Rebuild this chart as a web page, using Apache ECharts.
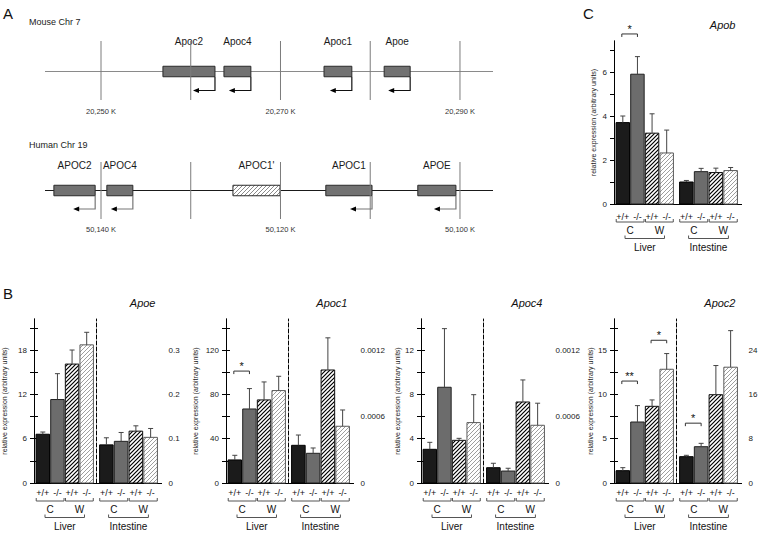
<!DOCTYPE html>
<html>
<head>
<meta charset="utf-8">
<title>Apolipoprotein gene cluster and expression</title>
<script src="https://cdn.jsdelivr.net/npm/echarts@6.0.0/dist/echarts.min.js"></script>
<style>
html,body{margin:0;padding:0;background:#fff;}
#chart{width:761px;height:534px;}
</style>
</head>
<body>
<div id="chart"></div>
<script>
// ---------------- Panel A : gene maps (kb) ----------------
const mouseGenes = ['Apoc2', 'Apoc4', 'Apoc1', 'Apoe'];
const mouseGeneLeft = [20256.9, 20263.7, 20274.85, 20281.55];
const mouseGeneRight = [20262.7, 20266.7, 20277.95, 20284.45];
const mouseTicks = [20250, 20260, 20270, 20280, 20290];
const mouseTickLabels = ['20,250 K', '', '20,270 K', '', '20,290 K'];
const mouseRange = [20243.76, 20293.68];

const humanGenes = ['APOC2', 'APOC4', "APOC1'", 'APOC1', 'APOE'];
const humanGeneLeft = [50145.25, 50139.35, 50125.3, 50114.95, 50104.7];
const humanGeneRight = [50140.65, 50136.45, 50120.05, 50109.8, 50100.45];
const humanPseudogene = [false, false, true, false, false];
const humanTicks = [50140, 50130, 50120, 50110, 50100];
const humanTickLabels = ['50,140 K', '', '50,120 K', '', '50,100 K'];
const humanRange = [50096.32, 50146.24];

// ---------------- Panels B, C : expression ----------------
const genotypes = ['+/+', '-/-', '+/+', '-/-'];
const diets = ['C', 'W'];
const tissues = ['Liver', 'Intestine'];
const yTitle = 'relative expression (arbitrary units)';

// Apoe
const apoeLiver = [6.6, 11.3, 16.1, 18.7];
const apoeLiverErr = [6.9, 14.8, 18.0, 20.4];
const apoeIntestine = [0.086, 0.094, 0.117, 0.103];
const apoeIntestineErr = [0.102, 0.114, 0.129, 0.123];
const apoeLeftTicks = [0, 3, 6, 9, 12, 15, 18, 21];
const apoeLeftLabels = [0, 6, 12, 18];
const apoeRightTicks = [0, 0.05, 0.1, 0.15, 0.2, 0.25, 0.3, 0.35];
const apoeRightLabels = [0, 0.1, 0.2, 0.3];

// Apoc1
const apoc1Liver = [20.8, 66.8, 75, 83.4];
const apoc1LiverErr = [25, 85.2, 91.2, 96.3];
const apoc1Intestine = [0.00034, 0.000268, 0.00102, 0.000512];
const apoc1IntestineErr = [0.000433, 0.000316, 0.00131, 0.000659];
const apoc1LiverSig = [[0, 1, 101, '*']];
const apoc1LeftTicks = [0, 20, 40, 60, 80, 100, 120, 140];
const apoc1LeftLabels = [0, 40, 80, 120];
const apoc1RightTicks = [0, 0.0002, 0.0004, 0.0006, 0.0008, 0.001, 0.0012, 0.0014];
const apoc1RightLabels = [0, 0.0006, 0.0012];

// Apoc4
const apoc4Liver = [3.04, 8.64, 3.85, 5.45];
const apoc4LiverErr = [3.67, 13.93, 4.03, 7.97];
const apoc4Intestine = [0.000138, 0.000108, 0.000731, 0.000521];
const apoc4IntestineErr = [0.000178, 0.000133, 0.00093, 0.00072];
const apoc4LeftTicks = [0, 2, 4, 6, 8, 10, 12, 14];
const apoc4LeftLabels = [0, 4, 8, 12];
const apoc4RightTicks = [0, 0.0002, 0.0004, 0.0006, 0.0008, 0.001, 0.0012, 0.0014];
const apoc4RightLabels = [0, 0.0006, 0.0012];

// Apoc2
const apoc2Liver = [1.39, 6.88, 8.65, 12.83];
const apoc2LiverErr = [1.73, 8.73, 9.37, 14.6];
const apoc2Intestine = [4.75, 6.55, 15.94, 20.9];
const apoc2IntestineErr = [5.0, 7.16, 21.2, 27.5];
const apoc2LiverSig = [[0, 1, 11.5, '**'], [2, 3, 16.1, '*']];
const apoc2IntestineSig = [[0, 1, 10.8, '*']];
const apoc2LeftTicks = [0, 2.5, 5, 7.5, 10, 12.5, 15, 17.5];
const apoc2LeftLabels = [0, 5, 10, 15];
const apoc2RightTicks = [0, 4, 8, 12, 16, 20, 24, 28];
const apoc2RightLabels = [0, 8, 16, 24];

// Apob
const apobLiver = [3.7, 5.9, 3.22, 2.32];
const apobLiverErr = [4.0, 6.7, 4.1, 3.36];
const apobIntestine = [1.0, 1.47, 1.43, 1.52];
const apobIntestineErr = [1.07, 1.62, 1.63, 1.66];
const apobLiverSig = [[0, 1, 7.73, '*']];
const apobTicks = [0, 1, 2, 3, 4, 5, 6, 7];
const apobLabels = [0, 2, 4, 6];

// ---------------- styling helpers ----------------
const FONT = "'Liberation Sans', Arial, Helvetica, sans-serif";
function hatch(lineColor, lw) {
  const s = 4;
  const c = document.createElement('canvas');
  c.width = s; c.height = s;
  const g = c.getContext('2d');
  g.fillStyle = '#ffffff'; g.fillRect(0, 0, s, s);
  g.strokeStyle = lineColor; g.lineWidth = lw;
  g.beginPath();
  g.moveTo(-1, s + 1); g.lineTo(s + 1, -1);
  g.moveTo(-1, 1); g.lineTo(1, -1);
  g.moveTo(s - 1, s + 1); g.lineTo(s + 1, s - 1);
  g.stroke();
  return { image: c.toDataURL(), repeat: 'repeat', imageWidth: s, imageHeight: s };
}
const BAR_FILL = ['#1b1b1b', '#6c6c6c', hatch('#000000', 1.2), hatch('#9e9e9e', 1.0)];
const BAR_STROKE = ['#000', '#202020', '#111', '#5a5a5a'];
const PSEUDO_FILL = hatch('#8a8a8a', 1.0);

const option = {
  animation: false,
  backgroundColor: '#ffffff',
  textStyle: { fontFamily: FONT },
  grid: [], xAxis: [], yAxis: [], series: [],
  graphic: { elements: [] }
};
function addGrid(g) { option.grid.push(Object.assign({ containLabel: false, outerBoundsMode: 'none' }, g)); return option.grid.length - 1; }
function addX(a) { option.xAxis.push(a); return option.xAxis.length - 1; }
function addY(a) { option.yAxis.push(a); return option.yAxis.length - 1; }
function addText(x, y, text, st) {
  option.graphic.elements.push({ type: 'text', x: x, y: y, silent: true,
    style: Object.assign({ text: text, fontFamily: FONT, fill: '#111', align: 'left', verticalAlign: 'middle' }, st) });
}

// ---------------- gene tracks ----------------
function geneTrack(t) {
  const gi = addGrid({ left: 45, top: t.top, width: 448, height: t.height });
  const xi = addX({ type: 'value', gridIndex: gi, min: t.range[0], max: t.range[1], inverse: !!t.inverse, show: false });
  const yi = addY({ type: 'value', gridIndex: gi, min: 0, max: 1, show: false });
  option.series.push({
    type: 'custom', xAxisIndex: xi, yAxisIndex: yi, z: 1, silent: true,
    data: [[t.range[0], t.range[1]]], encode: { x: [0, 1] },
    renderItem: function (params, api) {
      const a = api.coord([api.value(0), 0]), b = api.coord([api.value(1), 0]);
      const y = params.coordSys.y + t.lineOff;
      return { type: 'line', shape: { x1: a[0], y1: y, x2: b[0], y2: y }, style: { stroke: t.lineColor, lineWidth: 1 } };
    }
  });
  option.series.push({
    type: 'custom', xAxisIndex: xi, yAxisIndex: yi, z: 2, silent: true,
    data: t.genes.map(function (g, k) { return [t.left[k], t.right[k]]; }), encode: { x: [0, 1] },
    renderItem: function (params, api) {
      const k = params.dataIndex;
      const a = api.coord([api.value(0), 0]), b = api.coord([api.value(1), 0]);
      const x1 = Math.min(a[0], b[0]), x2 = Math.max(a[0], b[0]);
      const y = params.coordSys.y + t.lineOff;
      const pseudo = t.pseudo && t.pseudo[k];
      const ch = [
        { type: 'rect', shape: { x: x1, y: y - 5.25, width: x2 - x1, height: 10.5 },
          style: { fill: pseudo ? PSEUDO_FILL : '#727272', stroke: '#2a2a2a', lineWidth: 1 } },
        { type: 'text', x: (x1 + x2) / 2, y: y - t.labelOff,
          style: { text: t.genes[k], align: 'center', verticalAlign: 'middle', fontSize: 10, fontFamily: FONT, fill: '#1a1a1a' } }
      ];
      if (!pseudo) {
        const ay = y + t.arrowOff;
        ch.push({ type: 'polyline', shape: { points: [[x2, y + 5.25], [x2, ay], [x2 - 17, ay]] },
          style: { stroke: t.arrowColor, fill: 'none', lineWidth: 1.2 } });
        ch.push({ type: 'polygon', shape: { points: [[x2 - 22, ay], [x2 - 16, ay - 2.6], [x2 - 16, ay + 2.6]] },
          style: { fill: '#000', stroke: 'none' } });
      }
      return { type: 'group', children: ch };
    }
  });
  option.series.push({
    type: 'custom', xAxisIndex: xi, yAxisIndex: yi, z: 3, silent: true,
    data: t.ticks.map(function (v) { return [v]; }), encode: { x: 0 },
    renderItem: function (params, api) {
      const a = api.coord([api.value(0), 0]);
      const cs = params.coordSys;
      const ch = [{ type: 'line', shape: { x1: a[0], y1: cs.y, x2: a[0], y2: cs.y + cs.height },
        style: { stroke: '#7c7c7c', lineWidth: 1 } }];
      const lab = t.tickLabels[params.dataIndex];
      if (lab) ch.push({ type: 'text', x: a[0], y: cs.y + cs.height + t.tickLabelOff,
        style: { text: lab, align: 'center', verticalAlign: 'middle', fontSize: 7.5, fontFamily: FONT, fill: '#333' } });
      return { type: 'group', children: ch };
    }
  });
}

geneTrack({ top: 41, height: 59, range: mouseRange, inverse: false, genes: mouseGenes, left: mouseGeneLeft, right: mouseGeneRight,
  ticks: mouseTicks, tickLabels: mouseTickLabels, lineOff: 30.5, labelOff: 30.5, arrowOff: 19, tickLabelOff: 11,
  lineColor: '#8a8a8a', arrowColor: '#111' });
geneTrack({ top: 162, height: 57, range: humanRange, inverse: true, genes: humanGenes, left: humanGeneLeft, right: humanGeneRight,
  pseudo: humanPseudogene, ticks: humanTicks, tickLabels: humanTickLabels, lineOff: 28.5, labelOff: 25.5, arrowOff: 18.5, tickLabelOff: 10.5,
  lineColor: '#1a1a1a', arrowColor: '#777' });

// ---------------- expression plots ----------------
function barItem(params, api) {
  const i = api.value(0), v = api.value(1), e = api.value(2);
  const base = api.coord([i, 0]), top = api.coord([i, v]), et = api.coord([i, e]);
  const w = api.size([1, 0])[0] * 0.92;
  const cx = base[0];
  return { type: 'group', children: [
    { type: 'rect', shape: { x: cx - w / 2, y: top[1], width: w, height: base[1] - top[1] },
      style: { fill: BAR_FILL[i], stroke: BAR_STROKE[i], lineWidth: 1 } },
    { type: 'line', shape: { x1: cx, y1: top[1], x2: cx, y2: et[1] }, style: { stroke: '#444', lineWidth: 1 } },
    { type: 'line', shape: { x1: cx - 2.5, y1: et[1], x2: cx + 2.5, y2: et[1] }, style: { stroke: '#444', lineWidth: 1 } }
  ] };
}

function exprPlot(p) {
  const W = 127.5;
  const axisLine = { show: true, lineStyle: { color: '#000', width: 1 } };
  const fg = addGrid({ left: p.left, top: p.top, width: W, height: p.height });
  addX({ type: 'value', gridIndex: fg, position: 'bottom', min: 0, max: 1, axisLine: axisLine,
    axisTick: { show: false }, axisLabel: { show: false }, splitLine: { show: false } });
  addX({ type: 'value', gridIndex: fg, position: 'top', min: 0, max: 1, axisLine: axisLine,
    axisTick: { show: false }, axisLabel: { show: false }, splitLine: { show: false } });
  addY({ type: 'value', gridIndex: fg, position: 'left', min: 0, max: p.leftMax, axisLine: axisLine,
    axisTick: { show: true, length: 4, inside: false, customValues: p.leftTicks, lineStyle: { color: '#000' } },
    axisLabel: { show: true, customValues: p.leftLabels, fontSize: 8, margin: 7, color: '#222', fontFamily: FONT },
    splitLine: { show: false },
    name: yTitle, nameLocation: 'middle', nameGap: p.nameGap,
    nameTextStyle: { fontSize: 7, color: '#222', fontFamily: FONT } });
  if (p.rightTicks) {
    addY({ type: 'value', gridIndex: fg, position: 'right', min: 0, max: p.rightMax, axisLine: axisLine,
      axisTick: { show: true, length: 4, inside: false, customValues: p.rightTicks, lineStyle: { color: '#000' } },
      axisLabel: { show: true, customValues: p.rightLabels, fontSize: 8, margin: 7, color: '#222', fontFamily: FONT },
      splitLine: { show: false } });
  } else {
    addY({ type: 'value', gridIndex: fg, position: 'right', min: 0, max: 1, axisLine: axisLine,
      axisTick: { show: false }, axisLabel: { show: false }, splitLine: { show: false } });
  }
  const groups = [
    { vals: p.liver, err: p.liverErr, sig: p.liverSig || [], left: p.left + 1.5, width: 58.5, max: p.leftMax, tissue: 0 },
    { vals: p.intestine, err: p.intestineErr, sig: p.intestineSig || [], left: p.left + 65, width: 59, max: p.rightMax || p.leftMax, tissue: 1 }
  ];
  groups.forEach(function (gr, gIdx) {
    const gi = addGrid({ left: gr.left, top: p.top, width: gr.width, height: p.height });
    const xi = addX({ type: 'category', gridIndex: gi, data: genotypes, boundaryGap: true,
      axisLine: { show: false }, axisTick: { show: false }, splitLine: { show: false },
      axisLabel: { interval: 0, fontSize: 9, margin: p.labelMargin, color: '#111', fontFamily: FONT } });
    const yi = addY({ type: 'value', gridIndex: gi, min: 0, max: gr.max, show: false });
    if (gIdx === 0 && p.dashed) {
      addY({ type: 'value', gridIndex: gi, position: 'right', offset: p.left + 62.5 - (gr.left + gr.width), min: 0, max: 1,
        axisLine: { show: true, lineStyle: { color: '#000', width: 1, type: [4, 2] } },
        axisTick: { show: false }, axisLabel: { show: false }, splitLine: { show: false } });
    }
    option.series.push({ type: 'custom', xAxisIndex: xi, yAxisIndex: yi, z: 3, silent: true,
      data: gr.vals.map(function (v, k) { return [k, v, gr.err[k]]; }), encode: { x: 0, y: [1, 2] },
      renderItem: barItem });
    option.series.push({ type: 'custom', xAxisIndex: xi, yAxisIndex: yi, z: 3, silent: true,
      data: diets.map(function (d, k) { return [2 * k, 2 * k + 1]; }), encode: { x: [0, 1] },
      renderItem: function (params, api) {
        const a = api.coord([api.value(0), 0]), b = api.coord([api.value(1), 0]);
        const s = api.size([1, 0])[0];
        const x1 = a[0] - 0.45 * s, x2 = b[0] + 0.45 * s, y = a[1] + 18;
        return { type: 'group', children: [
          { type: 'polyline', shape: { points: [[x1, y - 3], [x1, y], [x2, y], [x2, y - 3]] }, style: { stroke: '#555', fill: 'none', lineWidth: 1 } },
          { type: 'text', x: (x1 + x2) / 2, y: y + 8, style: { text: diets[params.dataIndex], align: 'center', verticalAlign: 'middle', fontSize: 10, fontFamily: FONT, fill: '#111' } }
        ] };
      } });
    option.series.push({ type: 'custom', xAxisIndex: xi, yAxisIndex: yi, z: 3, silent: true,
      data: [[0, 3]], encode: { x: [0, 1] },
      renderItem: function (params, api) {
        const a = api.coord([api.value(0), 0]), b = api.coord([api.value(1), 0]);
        const s = api.size([1, 0])[0];
        const x1 = a[0] + 0.15 * s, x2 = b[0] - 0.15 * s, y = a[1] + 34.5;
        return { type: 'group', children: [
          { type: 'polyline', shape: { points: [[x1, y - 3], [x1, y], [x2, y], [x2, y - 3]] }, style: { stroke: '#555', fill: 'none', lineWidth: 1 } },
          { type: 'text', x: (x1 + x2) / 2, y: y + 9, style: { text: tissues[gr.tissue], align: 'center', verticalAlign: 'middle', fontSize: 10, fontFamily: FONT, fill: '#111' } }
        ] };
      } });
    if (gr.sig.length) {
      option.series.push({ type: 'custom', xAxisIndex: xi, yAxisIndex: yi, z: 3, silent: true,
        data: gr.sig.map(function (s) { return [s[0], s[1], s[2]]; }), encode: { x: [0, 1], y: 2 },
        renderItem: function (params, api) {
          const a = api.coord([api.value(0), api.value(2)]), b = api.coord([api.value(1), api.value(2)]);
          const x1 = a[0] - 1, x2 = b[0], y = a[1];
          return { type: 'group', children: [
            { type: 'polyline', shape: { points: [[x1, y + 3], [x1, y], [x2, y], [x2, y + 3]] }, style: { stroke: '#333', fill: 'none', lineWidth: 1 } },
            { type: 'text', x: (x1 + x2) / 2, y: y - 5, style: { text: gr.sig[params.dataIndex][3], align: 'center', verticalAlign: 'middle', fontSize: 11, fontFamily: FONT, fill: '#111' } }
          ] };
        } });
    }
  });
  addText(p.left + W - 6, p.top - 16, p.title, { align: 'right', fontSize: 11, fontStyle: 'italic' });
}

const bTop = 319, bHeight = 164;
exprPlot({ title: 'Apoe', left: 34, top: bTop, height: bHeight, nameGap: 26, labelMargin: 5.5, dashed: true,
  leftMax: 22.2, leftTicks: apoeLeftTicks, leftLabels: apoeLeftLabels,
  rightMax: 0.37, rightTicks: apoeRightTicks, rightLabels: apoeRightLabels,
  liver: apoeLiver, liverErr: apoeLiverErr, intestine: apoeIntestine, intestineErr: apoeIntestineErr });
exprPlot({ title: 'Apoc1', left: 226, top: bTop, height: bHeight, nameGap: 27, labelMargin: 5.5, dashed: true,
  leftMax: 148, leftTicks: apoc1LeftTicks, leftLabels: apoc1LeftLabels,
  rightMax: 0.00148, rightTicks: apoc1RightTicks, rightLabels: apoc1RightLabels,
  liver: apoc1Liver, liverErr: apoc1LiverErr, intestine: apoc1Intestine, intestineErr: apoc1IntestineErr, liverSig: apoc1LiverSig });
exprPlot({ title: 'Apoc4', left: 421, top: bTop, height: bHeight, nameGap: 16.5, labelMargin: 5.5, dashed: true,
  leftMax: 14.8, leftTicks: apoc4LeftTicks, leftLabels: apoc4LeftLabels,
  rightMax: 0.00148, rightTicks: apoc4RightTicks, rightLabels: apoc4RightLabels,
  liver: apoc4Liver, liverErr: apoc4LiverErr, intestine: apoc4Intestine, intestineErr: apoc4IntestineErr });
exprPlot({ title: 'Apoc2', left: 614, top: bTop, height: bHeight, nameGap: 17, labelMargin: 5.5, dashed: true,
  leftMax: 18.5, leftTicks: apoc2LeftTicks, leftLabels: apoc2LeftLabels,
  rightMax: 29.6, rightTicks: apoc2RightTicks, rightLabels: apoc2RightLabels,
  liver: apoc2Liver, liverErr: apoc2LiverErr, intestine: apoc2Intestine, intestineErr: apoc2IntestineErr,
  liverSig: apoc2LiverSig, intestineSig: apoc2IntestineSig });
exprPlot({ title: 'Apob', left: 614, top: 41, height: 163, nameGap: 17.5, labelMargin: 8, dashed: false,
  leftMax: 7.41, leftTicks: apobTicks, leftLabels: apobLabels,
  liver: apobLiver, liverErr: apobLiverErr, intestine: apobIntestine, intestineErr: apobIntestineErr, liverSig: apobLiverSig });

// panel letters and track names
addText(3, 13, 'A', { fontSize: 15 });
addText(3, 293, 'B', { fontSize: 15 });
addText(583, 13, 'C', { fontSize: 15 });
addText(29, 22, 'Mouse Chr 7', { fontSize: 9, fill: '#222' });
addText(29, 145, 'Human Chr 19', { fontSize: 9, fill: '#222' });

const chart = echarts.init(document.getElementById('chart'), null, { renderer: 'svg', width: 761, height: 534 });
chart.setOption(option);
</script>
</body>
</html>
